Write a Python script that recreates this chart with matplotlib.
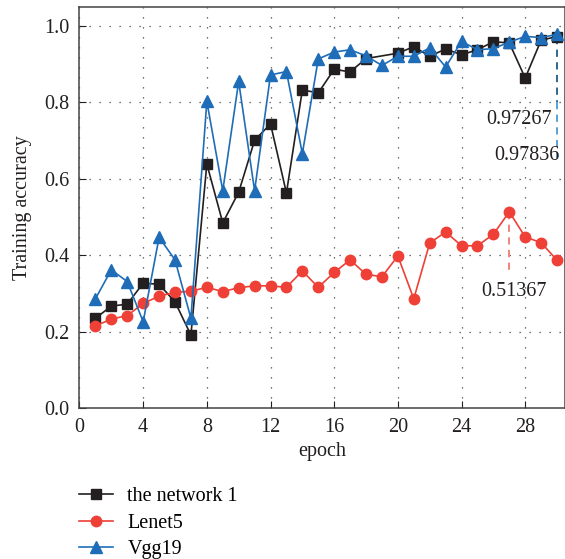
import matplotlib.pyplot as plt

plt.rcParams['font.family'] = ['Liberation Serif', 'DejaVu Serif']

epochs = list(range(1, 31))

net1 = [0.235, 0.267, 0.272, 0.327, 0.324, 0.278, 0.191, 0.639, 0.485, 0.565,
        0.701, 0.744, 0.563, 0.833, 0.825, 0.887, 0.880, 0.915, 0.922, 0.929,
        0.946, 0.921, 0.940, 0.925, 0.938, 0.959, 0.956, 0.864, 0.963, 0.97267]

lenet5 = [0.215, 0.233, 0.242, 0.274, 0.293, 0.303, 0.306, 0.316, 0.305, 0.315,
          0.320, 0.320, 0.316, 0.359, 0.316, 0.355, 0.388, 0.350, 0.344, 0.398,
          0.286, 0.432, 0.461, 0.425, 0.425, 0.455, 0.51367, 0.448, 0.433, 0.387]

vgg19 = [0.286, 0.362, 0.331, 0.226, 0.447, 0.388, 0.235, 0.803, 0.569, 0.855,
         0.569, 0.872, 0.881, 0.666, 0.914, 0.932, 0.938, 0.922, 0.897, 0.921,
         0.921, 0.943, 0.893, 0.960, 0.938, 0.941, 0.958, 0.973, 0.970, 0.97836]

black = '#231f20'
red = '#ee4036'
blue = '#1f6db8'
fs = 14.5

fig = plt.figure(figsize=(5.65, 5.59), dpi=100)
ax = fig.add_axes([0.1407, 0.270, 0.8593, 0.7175])

# epoch 19 of the first network has no marker drawn
marks = [i for i in range(30) if i != 18]
ax.plot(epochs, net1, color=black, lw=1.2, marker='s', ms=7, markevery=marks,
        label='the network 1', zorder=3)
ax.plot(epochs, lenet5, color=red, lw=1.2, marker='o', ms=7.5,
        label='Lenet5', zorder=3)
ax.plot(epochs, vgg19, color=blue, lw=1.2, marker='^', ms=8,
        label='Vgg19', zorder=4)

# value callouts
ax.plot([30, 30], [net1[-1], 0.80], color='#1d5a85', lw=1.3, ls=(0, (4, 3)), zorder=2)
ax.plot([30, 30], [0.80, 0.655], color='#4a9ad6', lw=1.3, ls=(0, (4, 3)), zorder=2)
ax.plot([27, 27], [lenet5[26], 0.355], color='#f07a74', lw=1.3, ls=(0, (4, 3)), zorder=2)
ax.text(29.7, 0.755, '%.5f' % net1[-1], ha='right', va='center', fontsize=fs, color=black)
ax.text(30.15, 0.662, '%.5f' % vgg19[-1], ha='right', va='center', fontsize=fs, color=black)
ax.text(27.3, 0.305, '%.5f' % lenet5[26], ha='center', va='center', fontsize=fs, color=black)

ax.set_xlim(0, 30.5)
ax.set_ylim(0, 1.05)
ax.set_xticks(range(0, 30, 4))
ax.set_yticks([0, 0.2, 0.4, 0.6, 0.8, 1.0])
ax.set_yticklabels(['0.0', '0.2', '0.4', '0.6', '0.8', '1.0'])
ax.tick_params(direction='in', length=5, labelsize=fs, colors=black, pad=7)
ax.grid(True, ls=(0, (1, 7)), color='#444444', lw=0.9)
for s in ax.spines.values():
    s.set_color('#444444')
    s.set_linewidth(1.1)

ax.set_xlabel('epoch', fontsize=fs, color=black, labelpad=4)
ax.set_ylabel('Training accuracy', fontsize=fs, color=black, labelpad=9)

fig.legend(loc='upper left', bbox_to_anchor=(0.108, 0.161), frameon=False,
           fontsize=fs, handlelength=1.7, handletextpad=0.7, labelspacing=0.36)

fig.savefig('out.png', dpi=100)
